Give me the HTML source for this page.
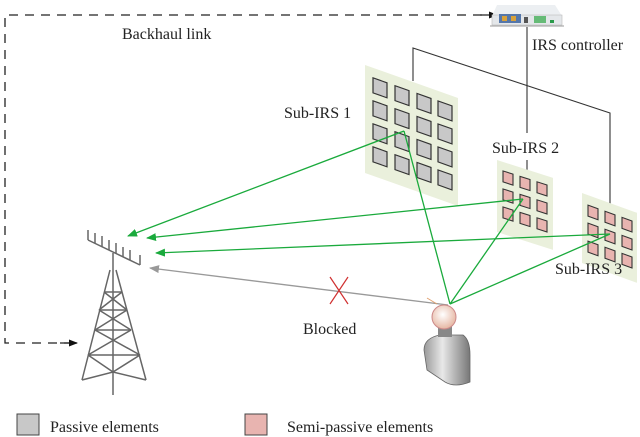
<!DOCTYPE html>
<html><head><meta charset="utf-8"><style>
html,body{margin:0;padding:0;background:#fff}
svg{display:block}
text{font-family:"Liberation Serif","Times New Roman",serif;font-size:16px;fill:#222}
</style></head><body>
<svg width="640" height="437" viewBox="0 0 640 437" xmlns="http://www.w3.org/2000/svg" font-family="Liberation Serif, serif">
<defs>
<marker id="ag" markerWidth="10" markerHeight="8" refX="9" refY="4" orient="auto" markerUnits="userSpaceOnUse"><path d="M0,0 L10,4 L0,8 Z" fill="#1aaa3c"/></marker>
<marker id="agr" markerWidth="10" markerHeight="8" refX="9" refY="4" orient="auto" markerUnits="userSpaceOnUse"><path d="M0,0 L10,4 L0,8 Z" fill="#999"/></marker>
<marker id="ab" markerWidth="9" markerHeight="7" refX="8" refY="3.5" orient="auto" markerUnits="userSpaceOnUse"><path d="M0,0 L9,3.5 L0,7 Z" fill="#111"/></marker>
</defs>
<path d="M73,343 L5,343 L5,15 L495,15" fill="none" stroke="#222" stroke-width="1.3" stroke-dasharray="9,7"/>
<line x1="60" y1="343" x2="77" y2="343" stroke="#222" stroke-width="1.3" marker-end="url(#ab)"/>
<line x1="480" y1="15" x2="497" y2="15" stroke="#222" stroke-width="1.3" marker-end="url(#ab)"/>
<text x="122" y="39" font-family="Liberation Serif, serif">Backhaul link</text>
<path d="M497,5 L555,5 L562,16 L492,16 Z" fill="#eceff2"/>
<rect x="492" y="15" width="70" height="10" fill="#e4e7ea" stroke="#bbb" stroke-width="0.6"/>
<rect x="499" y="14" width="22" height="9" fill="#5577aa"/>
<rect x="502" y="16" width="5" height="5" fill="#d9a23a"/><rect x="511" y="16" width="5" height="5" fill="#d9a23a"/>
<rect x="524" y="17" width="4" height="6" fill="#555"/>
<rect x="534" y="16" width="12" height="7" fill="#66bb77"/><rect x="550" y="20" width="4" height="3" fill="#2a9a4a"/>
<line x1="490" y1="26" x2="564" y2="26" stroke="#999" stroke-width="1"/>
<text x="532" y="50" font-family="Liberation Serif, serif">IRS controller</text>
<line x1="527" y1="27" x2="527" y2="133" stroke="#333" stroke-width="1.1"/>
<line x1="527" y1="160" x2="527" y2="170" stroke="#333" stroke-width="1.1"/>
<path d="M413,81 L413,48 L610,113 L610,205" fill="none" stroke="#333" stroke-width="1.1"/>
<g transform="matrix(1,0.355,0,1,365,65)">
<rect x="0" y="0" width="93" height="108" fill="#eaf0dc"/>
<g fill="#c8c8c8" stroke="#333" stroke-width="1.2">
<rect x="8" y="10" width="14" height="15"/><rect x="30" y="10" width="14" height="15"/><rect x="52" y="10" width="14" height="15"/><rect x="73" y="10" width="14" height="15"/>
<rect x="8" y="33" width="14" height="15"/><rect x="30" y="33" width="14" height="15"/><rect x="52" y="33" width="14" height="15"/><rect x="73" y="33" width="14" height="15"/>
<rect x="8" y="56" width="14" height="15"/><rect x="30" y="56" width="14" height="15"/><rect x="52" y="56" width="14" height="15"/><rect x="73" y="56" width="14" height="15"/>
<rect x="8" y="79" width="14" height="15"/><rect x="30" y="79" width="14" height="15"/><rect x="52" y="79" width="14" height="15"/><rect x="73" y="79" width="14" height="15"/>
</g></g>
<text x="284" y="118" font-family="Liberation Serif, serif">Sub-IRS 1</text>
<g transform="matrix(1,0.32,0,1,497,160)">
<rect x="0" y="0" width="56" height="72" fill="#eaf0dc"/>
<g fill="#e8b4b0" stroke="#333" stroke-width="1.1">
<rect x="6" y="9" width="10" height="11"/><rect x="23" y="9" width="10" height="11"/><rect x="40" y="9" width="10" height="11"/>
<rect x="6" y="27" width="10" height="11"/><rect x="23" y="27" width="10" height="11"/><rect x="40" y="27" width="10" height="11"/>
<rect x="6" y="45" width="10" height="11"/><rect x="23" y="45" width="10" height="11"/><rect x="40" y="45" width="10" height="11"/>
</g></g>
<text x="492" y="153" font-family="Liberation Serif, serif">Sub-IRS 2</text>
<g transform="matrix(1,0.36,0,1,582,193)">
<rect x="0" y="0" width="55" height="70" fill="#eaf0dc"/>
<g fill="#e8b4b0" stroke="#333" stroke-width="1.1">
<rect x="6" y="10" width="10" height="11"/><rect x="23" y="10" width="10" height="11"/><rect x="40" y="10" width="10" height="11"/>
<rect x="6" y="28" width="10" height="11"/><rect x="23" y="28" width="10" height="11"/><rect x="40" y="28" width="10" height="11"/>
<rect x="6" y="46" width="10" height="11"/><rect x="23" y="46" width="10" height="11"/><rect x="40" y="46" width="10" height="11"/>
</g></g>
<text x="555" y="274" font-family="Liberation Serif, serif">Sub-IRS 3</text>
<g stroke="#1aaa3c" stroke-width="1.3" fill="none">
<line x1="450" y1="304" x2="404" y2="131"/>
<line x1="450" y1="304" x2="523" y2="199"/>
<line x1="450" y1="304" x2="610" y2="234"/>
<line x1="404" y1="131" x2="128" y2="236" marker-end="url(#ag)"/>
<line x1="523" y1="199" x2="147" y2="238" marker-end="url(#ag)"/>
<line x1="610" y1="234" x2="156" y2="253" marker-end="url(#ag)"/>
</g>
<line x1="448" y1="305" x2="150" y2="268" stroke="#999" stroke-width="1.3" marker-end="url(#agr)"/>
<path d="M330,277 L348,304 M348,277 L330,304" stroke="#d03030" stroke-width="1.2"/>
<text x="303" y="334" font-family="Liberation Serif, serif">Blocked</text>
<g stroke="#666" stroke-width="1.5" fill="none">
<line x1="88" y1="240" x2="140" y2="265"/>
<path d="M88,240 L88,230 M95,243 L95,233 M102,247 L102,236 M109,250 L109,240 M116,253 L116,243 M123,257 L123,247 M130,260 L130,250 M140,265 L140,255"/>
<line x1="113" y1="253" x2="113" y2="395"/>
<path d="M110,270 L82,380 M116,270 L146,380 M82,380 L113,372 L146,380 M95,330 L131,330 M99,310 L127,310 M104,292 L122,292"/>
<path d="M104,292 L127,310 M122,292 L99,310 M99,310 L131,330 M127,310 L95,330 M95,330 L140,355 M131,330 L88,355 M88,355 L113,372 M140,355 L113,372 M88,355 L140,355"/>
</g>
<defs><radialGradient id="hd" cx="0.45" cy="0.4" r="0.6"><stop offset="0" stop-color="#fff"/><stop offset="1" stop-color="#e6b7a3"/></radialGradient>
<linearGradient id="bd" x1="0" x2="1"><stop offset="0" stop-color="#999"/><stop offset="0.4" stop-color="#e8e8e8"/><stop offset="1" stop-color="#777"/></linearGradient></defs>
<line x1="427" y1="298" x2="437" y2="304" stroke="#e0a070" stroke-width="1"/>
<path d="M424,350 Q424,338 440,335 L463,335 Q470,340 470,355 L470,382 Q455,388 445,382 L427,370 Z" fill="url(#bd)" stroke="#666" stroke-width="0.8"/>
<rect x="438" y="326" width="14" height="11" fill="#888"/>
<circle cx="444" cy="317" r="12" fill="url(#hd)" stroke="#c88" stroke-width="1"/>
<rect x="17" y="414" width="22" height="21" fill="#c8c8c8" stroke="#444" stroke-width="1"/>
<text x="50" y="432" font-family="Liberation Serif, serif">Passive elements</text>
<rect x="245" y="414" width="22" height="21" fill="#e8b4b0" stroke="#444" stroke-width="1"/>
<text x="287" y="432" font-family="Liberation Serif, serif">Semi-passive elements</text>
</svg>
</body></html>
